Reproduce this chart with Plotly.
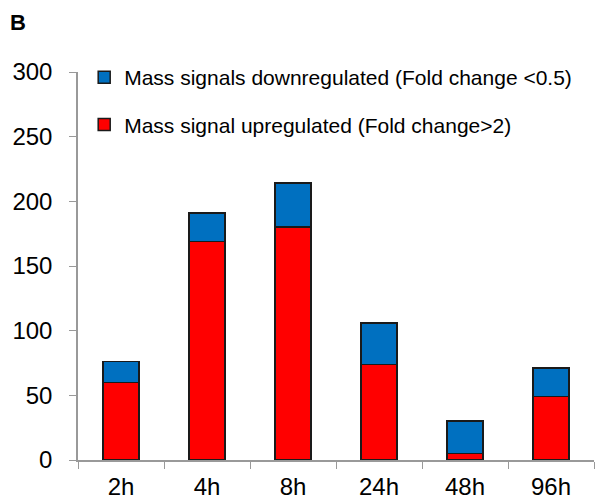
import plotly.graph_objects as go

categories = ["2h", "4h", "8h", "24h", "48h", "96h"]
up_values = [60, 169, 180, 74, 5, 49]
totals = [76, 191, 214, 106, 30, 71]
down_values = [t - u for t, u in zip(totals, up_values)]

up_name = "Mass signal upregulated (Fold change>2)"
down_name = "Mass signals downregulated (Fold change <0.5)"

fig = go.Figure()
fig.add_trace(go.Bar(x=categories, y=up_values, name=up_name, legendgroup="up", legendrank=2,
                     marker=dict(color="#FF0000", line=dict(color="#1a1a1a", width=1.5)),
                     width=0.42))
fig.add_trace(go.Bar(x=categories, y=down_values, name=down_name, legendgroup="down", legendrank=1,
                     marker=dict(color="#0070C0", line=dict(color="#1a1a1a", width=1.5)),
                     width=0.42))

font_family = "Liberation Sans, Arial, sans-serif"
L, R, T, B = 78, 4, 72, 43
PW, PH = 598 - L - R, 503 - T - B
fig.update_layout(
    width=598, height=503,
    barmode="stack",
    plot_bgcolor="white", paper_bgcolor="white",
    margin=dict(l=L, r=R, t=T, b=B),
    font=dict(family=font_family, color="black"),
    showlegend=True,
    legend=dict(x=0.012, y=1 + (T - 57) / PH, xanchor="left", yanchor="top",
                traceorder="grouped", tracegroupgap=17,
                font=dict(size=21, family=font_family), bgcolor="rgba(0,0,0,0)",
                itemwidth=30),
    xaxis=dict(showline=True, linecolor="#999999", linewidth=1.5, automargin=False,
               ticks="outside", tickson="boundaries", ticklen=7, tickcolor="#999999",
               tickfont=dict(size=24), ticklabelstandoff=4, showgrid=False),
    yaxis=dict(range=[0, 300], tickvals=[0, 50, 100, 150, 200, 250, 300], automargin=False,
               showline=True, linecolor="#999999", linewidth=1.5,
               ticks="outside", ticklen=7, tickcolor="#999999",
               tickfont=dict(size=24), ticklabelstandoff=12, showgrid=False, zeroline=False),
    annotations=[dict(text="<b>B</b>", xref="paper", yref="paper",
                      x=(8 - L) / PW, y=1 + (T - 22) / PH,
                      xanchor="left", yanchor="middle",
                      showarrow=False, font=dict(size=22))],
)

fig.write_html("out.html", config={"displayModeBar": False},
               post_script="document.body.style.margin='0';")
